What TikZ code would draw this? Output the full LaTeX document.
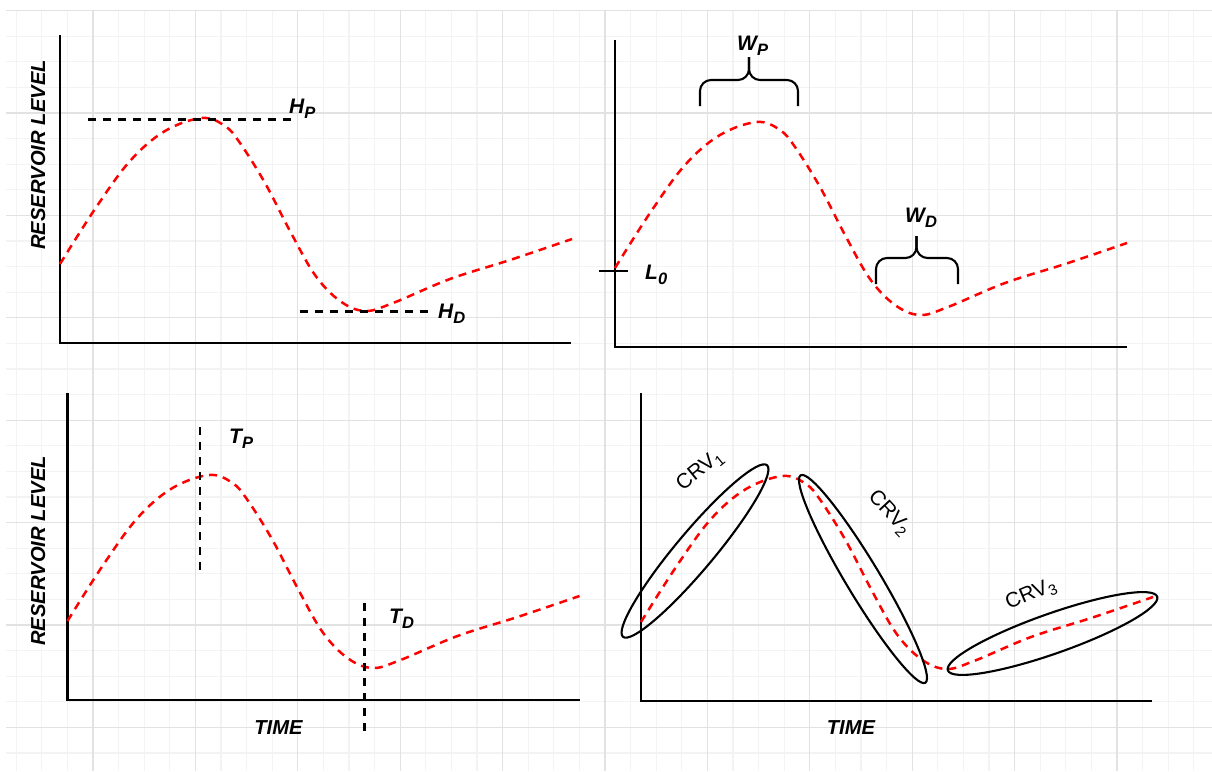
\documentclass[tikz,border=0pt]{standalone}
\usepackage{fontspec}
\setmainfont{Liberation Sans}
\newcommand\lsub[1]{\raisebox{-0.28em}{\fontsize{16.5}{16.5}\selectfont #1}}
\newcommand\csub[1]{\raisebox{-0.22em}{\fontsize{15}{15}\selectfont #1}}
\definecolor{minorgrid}{RGB}{243,243,243}
\definecolor{majorgrid}{RGB}{226,226,226}
\begin{document}
\begin{tikzpicture}[x=1pt,y=-1pt,
  minorline/.style={draw=minorgrid, line width=1.2},
  majorline/.style={draw=majorgrid, line width=1.2},
  axisline/.style={line width=2.6, black, line join=miter},
  redcurve/.style={red, line width=2.5, dash pattern=on 8 off 6},
  blackdash/.style={black, line width=2.1, dash pattern=on 8 off 7},
  bracket/.style={black, line width=2.1, rounded corners=11},
  ovalline/.style={black, line width=2.1},
  lbl/.style={font=\fontsize{21}{24}\selectfont\bfseries\itshape, inner sep=0pt},
  axlbl/.style={font=\fontsize{20.2}{24}\selectfont\bfseries\itshape, inner sep=0pt},
  crvlbl/.style={font=\fontsize{21}{24}\selectfont, inner sep=0pt},
  wave/.pic={\draw[redcurve] plot[smooth, tension=0.6] coordinates {(0,-79) (35,-134) (70,-182) (105,-212) (142,-225) (165,-217) (180,-200) (205,-160) (230,-112) (255,-68) (280,-42) (305,-32) (333,-40) (390,-64) (450,-83) (512,-104)};}
]
\useasboundingbox (0,0) rectangle (1212,771);
\fill[white] (0,0) rectangle (1212,771);
% grid
\foreach \i [evaluate=\i as \xx using 16.2+25.6*\i] in {0,...,46}
  \draw[minorline] (\xx,10.5) -- (\xx,771);
\foreach \j [evaluate=\j as \yy using 10.5+25.6*\j] in {0,...,29}
  \draw[minorline] (6,\yy) -- (1212,\yy);
\foreach \k [evaluate=\k as \xx using -9.4+102.4*\k] in {1,...,11}
  \draw[majorline] (\xx,10.5) -- (\xx,771);
\foreach \k [evaluate=\k as \yy using 10.5+102.4*\k] in {0,...,7}
  \draw[majorline] (6,\yy) -- (1212,\yy);

% ---------- top left ----------
\draw[axisline] (60,35) -- (60,343) -- (571,343);
\pic at (60,343) {wave};
\draw[blackdash] (88,119.5) -- (293,119.5);
\draw[blackdash] (300,311.5) -- (428,311.5);
\node[lbl, anchor=base west] (hp) at (289,113) {H\lsub{P}};
\node[lbl, anchor=base west] (hd) at (438,318) {H\lsub{D}};
\node[axlbl, rotate=90, anchor=base] (ylab1) at (45,155) {RESERVOIR LEVEL};

% ---------- top right ----------
\draw[axisline] (615,40) -- (615,347) -- (1127,347);
\pic at (615,347) {wave};
\draw[black, line width=2.1] (599,271) -- (628,271);
\node[lbl, anchor=base west] (l0) at (645,279) {L\lsub{0}};
\draw[bracket] (700,106) -- (700,80) -- (749,80) -- (749,57);
\draw[bracket] (798,106) -- (798,80) -- (749,80) -- (749,57);
\node[lbl, anchor=base west] (wp) at (737,50) {W\lsub{P}};
\draw[bracket] (876,284) -- (876,258) -- (916.5,258) -- (916.5,236);
\draw[bracket] (958,284) -- (958,258) -- (916.5,258) -- (916.5,236);
\node[lbl, anchor=base west] (wd) at (905,222) {W\lsub{D}};

% ---------- bottom left ----------
\draw[axisline] (67.5,393) -- (67.5,700) -- (580,700);
\pic at (67.5,700) {wave};
\draw[blackdash] (200,427) -- (200,574);
\draw[blackdash] (364.5,603) -- (364.5,732);
\node[lbl, anchor=base west] (tp) at (229,443) {T\lsub{P}};
\node[lbl, anchor=base west] (td) at (389,623) {T\lsub{D}};
\node[axlbl, anchor=base] (xlab1) at (278.5,734) {TIME};
\node[axlbl, rotate=90, anchor=base] (ylab2) at (45,551) {RESERVOIR LEVEL};

% ---------- bottom right ----------
\draw[axisline] (641,393) -- (641,701) -- (1152,701);
\pic at (641,701) {wave};
\draw[ovalline, rotate around={50:(695,551)}] (695,551) ellipse (112 and 19);
\draw[ovalline, rotate around={-59:(863,579)}] (863,579) ellipse (121 and 17);
\draw[ovalline, rotate around={19.4:(1052.5,633.5)}] (1052.5,633.5) ellipse (111 and 20);
\node[crvlbl, rotate=39] (crv1) at (700,471) {CRV\csub{1}};
\node[crvlbl, rotate=-47] (crv2) at (889,513) {CRV\csub{2}};
\node[crvlbl, rotate=23] (crv3) at (1031,595) {CRV\csub{3}};
\node[axlbl, anchor=base] (xlab2) at (851,734) {TIME};
\end{tikzpicture}
\end{document}
